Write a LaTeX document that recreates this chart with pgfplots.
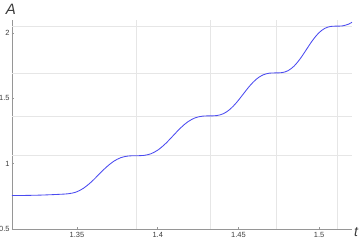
\documentclass[border=0pt]{standalone}
\usepackage{fontspec}
\setmainfont{Liberation Sans}
\usepackage{pgfplots}
\pgfplotsset{compat=1.18}
\definecolor{curve}{RGB}{75,75,240}
\definecolor{gridc}{RGB}{230,230,230}
\definecolor{axc}{RGB}{150,150,150}
\definecolor{labc}{RGB}{60,60,60}
\begin{document}
\begin{tikzpicture}
\begin{axis}[
  scale only axis, width=340pt, height=209pt,
  xmin=1.3097, xmax=1.5204, ymin=0.5, ymax=2.1,
  axis lines*=left,
  axis line style={axc, line width=0.6pt, -},
  tick align=inside,
  major tick length=2pt,
  tick style={axc, line width=0.5pt},
  xtick={1.35,1.4,1.45,1.5},
  xticklabels={1.35,1.4,1.45,1.5},
  ytick={0.5,1,1.5,2},
  yticklabels={0.5,1,1.5,2},
  ticklabel style={font=\fontsize{7.5}{9}\selectfont, text=labc},
  yticklabel style={xshift=1.2pt},
  extra x ticks={1.3866,1.4324,1.4733,1.511},
  extra x tick labels={},
  extra y ticks={1.061,1.366,1.695,2.053},
  extra y tick labels={},
  extra tick style={grid=major, major tick length=0pt, grid style={gridc, line width=0.6pt}},
  clip=false,
]
\addplot[curve, line width=0.85pt, smooth, tension=0.55] coordinates {
(1.3097,0.756) (1.318,0.757) (1.326,0.759) (1.333,0.762) (1.3400,0.766)
(1.34466,0.7700) (1.34932,0.7822) (1.35398,0.8116) (1.35864,0.8578)
(1.3633,0.9145) (1.36796,0.9712) (1.37262,1.0175) (1.37728,1.0468)
(1.38194,1.0591) (1.3866,1.0610)
(1.39118,1.0630) (1.39576,1.0758) (1.40034,1.1063) (1.40492,1.1545)
(1.4095,1.2135) (1.41408,1.2725) (1.41866,1.3207) (1.42324,1.3512)
(1.42782,1.3640) (1.4324,1.3660)
(1.43649,1.3681) (1.44058,1.3820) (1.44467,1.4149) (1.44876,1.4668)
(1.45285,1.5305) (1.45694,1.5942) (1.46103,1.6461) (1.46512,1.6790)
(1.46921,1.6929) (1.4733,1.6950)
(1.47707,1.6973) (1.48084,1.7124) (1.48461,1.7482) (1.48838,1.8047)
(1.49215,1.8740) (1.49592,1.9433) (1.49969,1.9998) (1.50346,2.0356)
(1.50723,2.0507) (1.5110,2.0530)
(1.5147,2.0552) (1.5184,2.0690) (1.5204,2.0830)
};
\coordinate (O) at (rel axis cs:0,0);
\coordinate (TL) at (rel axis cs:0,1);
\coordinate (BR) at (rel axis cs:1,0);
\end{axis}
\node[font=\fontsize{15}{16}\selectfont\itshape, text=labc, inner sep=0pt] at ([xshift=-1pt,yshift=11pt]TL) {A};
\node[font=\fontsize{14}{15}\selectfont\itshape, text=labc, inner sep=0pt] at ([xshift=4pt,yshift=-3pt]BR) {t};
\pgfresetboundingbox
\path ([xshift=-12pt,yshift=-11pt]O) rectangle ++(360pt,240pt);
\end{tikzpicture}
\end{document}
